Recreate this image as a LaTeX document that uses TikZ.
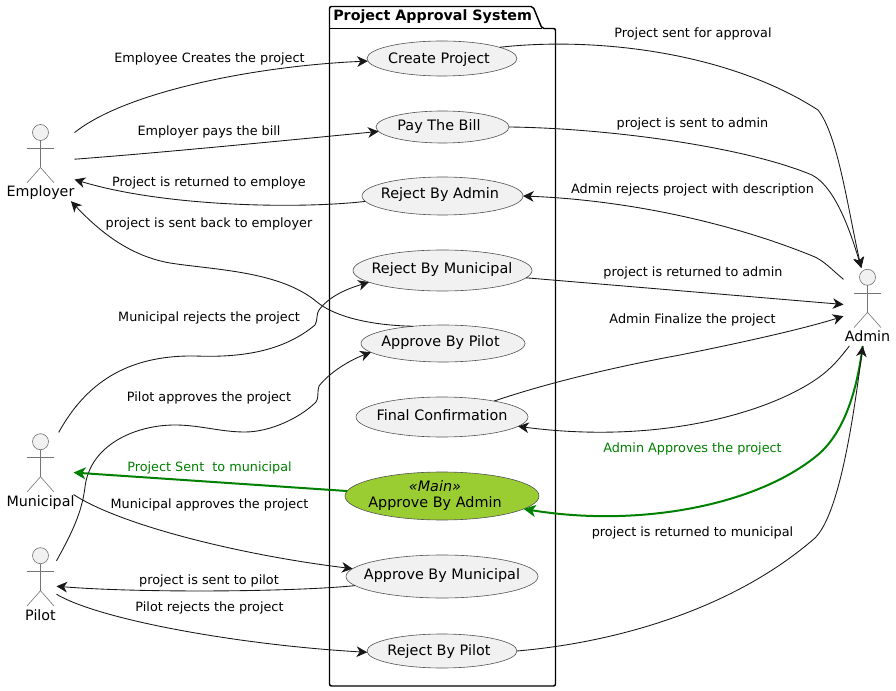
\documentclass[tikz,border=0pt]{standalone}
\usepackage{fontspec}
\setmainfont{DejaVu Sans}
\usetikzlibrary{shapes.geometric, arrows.meta}
\definecolor{lineColor}{RGB}{24,24,24}
\definecolor{caseColor}{RGB}{241,241,241}
\definecolor{mainColor}{RGB}{154,205,50}
\definecolor{approveColor}{RGB}{0,128,0}
\newcommand{\uctext}[3]{\makebox[0pt]{\hspace*{#1}\raisebox{#2}[0pt][0pt]{#3}}}

\begin{document}
\begin{tikzpicture}[
        x=0.75pt, y=-0.75pt,
        usecase/.style n args={2}{ellipse, draw=lineColor!75, line width=0.45pt, fill=caseColor, inner sep=0pt, outer sep=0pt, minimum width=#1, minimum height=#2, font=\fontsize{10.8}{12}\selectfont},
        actorbox/.style={rectangle, inner sep=0pt, outer sep=0pt, minimum height=58.5pt},
        actorname/.style={inner sep=0pt, anchor=base, font=\fontsize{10.7}{12}\selectfont},
        stick/.style={draw=lineColor!60, line width=0.45pt},
        edgetext/.style={inner sep=0pt, yshift=-0.9pt, font=\fontsize{9.6}{12}\selectfont, text=black},
        arrow/.style={-{Stealth[length=8pt, width=8pt, inset=2.4pt]}, draw=lineColor, line width=0.65pt},
        greenarrow/.style={-{Stealth[length=9pt, width=9pt, inset=2.5pt]}, draw=approveColor, line width=1.5pt}
    ]
        \useasboundingbox (0,0) rectangle (896,691);

        % Package
        \draw[black, line width=1.1pt, rounded corners=1.5pt] (329.5,28.5) -- (329.5,6.5) -- (533,6.5) -- (542,28.5) -- (555.5,28.5) -- (555.5,686) -- (329.5,686) -- cycle;
        \draw[black, line width=1.1pt] (329.5,28.5) -- (542,28.5);
        \node[inner sep=0pt, anchor=base west, font=\fontsize{10.7}{12}\selectfont\bfseries] (packageTitle) at (333,20.7) {Project Approval System};

        % Actors
        \foreach \nm/\lbl/\cx/\hy/\bw in {employer/Employer/40.5/132.5/51pt, municipal/Municipal/40.5/441.7/49.5pt, pilot/Pilot/40.5/555.7/24pt, admin/Admin/867.5/277.3/36pt} {
            \draw[stick, fill=caseColor] (\cx,\hy) circle[radius=8];
            \draw[stick] (\cx,\hy+8) -- (\cx,\hy+35);
            \draw[stick] (\cx-13.5,\hy+15.7) -- (\cx+13.5,\hy+15.7);
            \draw[stick] (\cx-13.5,\hy+50.3) -- (\cx,\hy+35) -- (\cx+13.5,\hy+50.3);
            \node[actorbox, minimum width=\bw] (\nm) at (\cx,\hy+29.7) {};
            \node[actorname] (\nm Name) at (\cx,\hy+64.3) {\lbl};
        }

        % Use cases
        \node[usecase={112.5pt}{26.25pt}] (createProject) at (442,58.5) {\uctext{-4.5pt}{-3.4pt}{Create Project}};
        \node[usecase={99.75pt}{24pt}] (payBill) at (442.5,127) {\uctext{-5.25pt}{-3pt}{Pay The Bill}};
        \node[usecase={120.75pt}{28.5pt}] (rejectAdmin) at (442.5,196) {\uctext{-3.75pt}{-2.25pt}{Reject By Admin}};
        \node[usecase={134.25pt}{30.75pt}] (rejectMunicipal) at (442.5,270.5) {\uctext{-0.75pt}{-1.9pt}{Reject By Municipal}};
        \node[usecase={123pt}{27.75pt}] (approvePilot) at (443,343.5) {\uctext{-3.75pt}{-2.6pt}{Approve By Pilot}};
        \node[usecase={129pt}{30pt}] (finalConfirm) at (442,417) {\uctext{0pt}{-2.25pt}{Final Confirmation}};
        \node[usecase={145.5pt}{36pt}, fill=mainColor] (approveAdmin) at (442,496) {\uctext{-10.5pt}{-8.45pt}{\begin{tabular}[b]{@{}c@{}}\textit{«Main»}\\Approve By Admin\end{tabular}}};
        \node[usecase={144pt}{32.25pt}] (approveMunicipal) at (442,576.5) {\uctext{0pt}{-2.6pt}{Approve By Municipal}};
        \node[usecase={112.5pt}{25.5pt}] (rejectPilot) at (442,651) {\uctext{-4.5pt}{-3pt}{Reject By Pilot}};

        % Left connectors
        \draw[arrow] (employer.41) .. controls (125,92) and (255,66) .. (createProject.182);
        \draw[arrow] (employer.5) .. controls (170,152) and (300,139) .. (payBill.184);
        \draw[arrow] (rejectAdmin.184) .. controls (300,209) and (165,207) .. (employer.-27);
        \draw[arrow] (approvePilot.150) .. controls (360,325) and (330,313) .. (317,302) .. controls (280,271) and (215,270) .. (170,263) .. controls (130,256) and (100,232) .. (employer.-52);
        \draw[arrow] (municipal.65) .. controls (85,385) and (125,355) .. (195,356) .. controls (245,358) and (285,350) .. (315,325) .. controls (318,320) and (316,314) .. (319,310) .. controls (330,295) and (350,288) .. (rejectMunicipal.189);
        \draw[arrow] (pilot.57) .. controls (72,533) and (82,512) .. (85,487) .. controls (90,445) and (135,425) .. (175,425) .. controls (200,425) and (220,432) .. (245,432) .. controls (270,432) and (300,418) .. (316,402) .. controls (319,398) and (317,392) .. (319,386) .. controls (330,372) and (350,360) .. (approvePilot.187);
        \draw[greenarrow] (approveAdmin.177) -- (municipal.-2);
        \draw[arrow] (municipal.-35) .. controls (120,525) and (240,555) .. (approveMunicipal.175);
        \draw[arrow] (approveMunicipal.186) .. controls (290,592) and (140,593) .. (pilot.-3);
        \draw[arrow] (pilot.-29) .. controls (100,620) and (240,645) .. (rejectPilot.181);

        % Right connectors
        \draw[arrow] (createProject.11) .. controls (590,37) and (725,50) .. (818,110) .. controls (838,135) and (848,210) .. (admin.99);
        \draw[arrow] (payBill.east) .. controls (600,128) and (740,145) .. (812,175) .. controls (835,187) and (850,230) .. (admin.99);
        \draw[arrow] (admin.131) .. controls (830,268) and (825,262) .. (815,257) .. controls (730,222) and (625,200) .. (rejectAdmin.east);
        \draw[arrow] (rejectMunicipal.-5) -- (admin.174);
        \draw[arrow] (finalConfirm.17) .. controls (550,382) and (620,366) .. (680,355) .. controls (730,345) and (800,330) .. (admin.201);
        \draw[arrow] (admin.245) .. controls (840,358) and (832,368) .. (818,378) .. controls (770,412) and (660,445) .. (finalConfirm.-7);
        \draw[greenarrow] (admin.263) .. controls (857,390) and (845,430) .. (820,453) .. controls (760,505) and (640,528) .. (approveAdmin.-9);
        \draw[arrow] (rejectPilot.east) .. controls (610,643) and (730,612) .. (815,538) .. controls (838,515) and (852,430) .. (admin.263);

        % Connector labels
        \node[edgetext] (lblCreates) at (209.5,58) {Employee Creates the project};
        \node[edgetext] (lblPays) at (209,131) {Employer pays the bill};
        \node[edgetext] (lblReturned) at (209,182) {Project is returned to employe};
        \node[edgetext] (lblSentBack) at (209,223) {project is sent back to employer};
        \node[edgetext] (lblMunRejects) at (209,317) {Municipal rejects the project};
        \node[edgetext] (lblPilotApproves) at (209,397) {Pilot approves the project};
        \node[edgetext, text=approveColor] (lblSentMun) at (209.5,467) {Project Sent\ \ to municipal};
        \node[edgetext] (lblMunApproves) at (209.5,504) {Municipal approves the project};
        \node[edgetext] (lblSentPilot) at (209,580) {project is sent to pilot};
        \node[edgetext] (lblPilotRejects) at (209.5,607) {Pilot rejects the project};
        \node[edgetext] (lblForApproval) at (693,33) {Project sent for approval};
        \node[edgetext] (lblSentAdmin) at (692.5,123) {project is sent to admin};
        \node[edgetext] (lblAdminRejects) at (692.5,189) {Admin rejects project with description};
        \node[edgetext] (lblReturnedAdmin) at (693,272) {project is returned to admin};
        \node[edgetext] (lblFinalize) at (692.5,319) {Admin Finalize the project};
        \node[edgetext, text=approveColor] (lblApproves) at (692.5,448) {Admin Approves the project};
        \node[edgetext] (lblReturnedMun) at (692.5,532) {project is returned to municipal};
    \end{tikzpicture}
\end{document}
